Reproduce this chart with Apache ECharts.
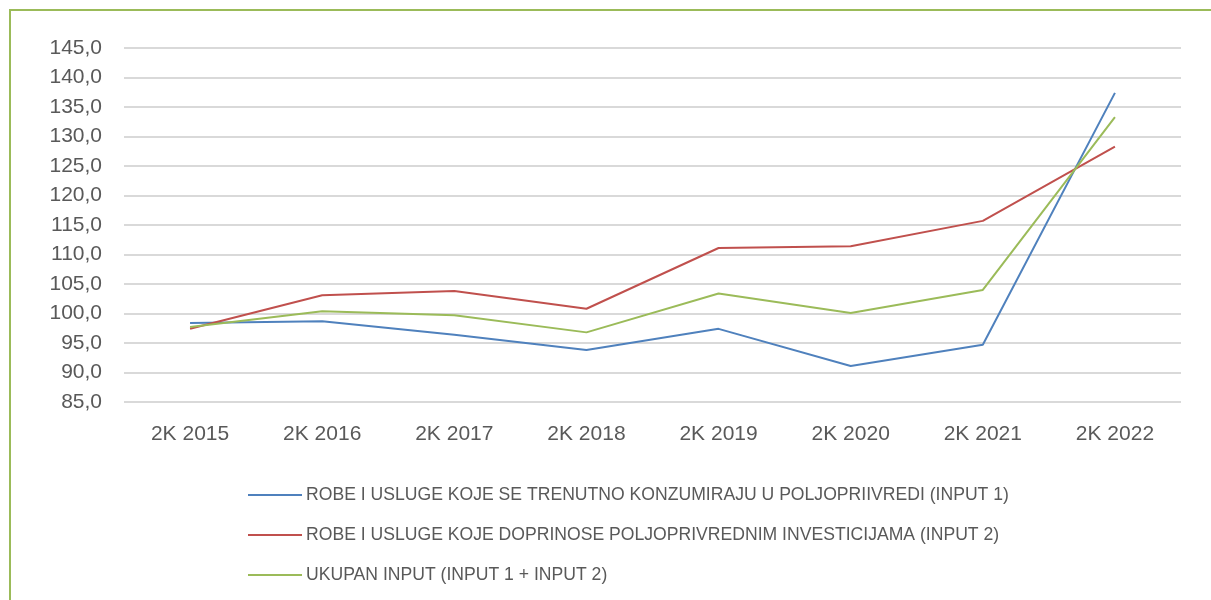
<!DOCTYPE html>
<html>
<head>
<meta charset="utf-8">
<script src="https://cdn.jsdelivr.net/npm/echarts@6/dist/echarts.min.js"></script>
<style>
html,body{margin:0;padding:0;background:#fff;}
#main{width:1211px;height:600px;}
</style>
</head>
<body>
<div id="main"></div>
<script>
const categories = ['2K 2015','2K 2016','2K 2017','2K 2018','2K 2019','2K 2020','2K 2021','2K 2022'];
const seriesNames = [
  'ROBE I USLUGE KOJE SE TRENUTNO KONZUMIRAJU U POLJOPRIIVREDI (INPUT 1)',
  'ROBE I USLUGE KOJE DOPRINOSE POLJOPRIVREDNIM INVESTICIJAMA (INPUT 2)',
  'UKUPAN INPUT (INPUT 1 + INPUT 2)'
];
const input1 = [98.4, 98.7, 96.4, 93.8, 97.4, 91.1, 94.7, 137.4];
const input2 = [97.4, 103.1, 103.8, 100.8, 111.1, 111.4, 115.7, 128.3];
const ukupno = [97.7, 100.4, 99.7, 96.8, 103.4, 100.1, 104.0, 133.3];

const colors = ['#4F81BD', '#C0504D', '#9BBB59'];
const font = "'Liberation Sans', Arial, sans-serif";

const chart = echarts.init(document.getElementById('main'), null, {renderer: 'canvas'});
const mk = (name, data, color) => ({
  name, type: 'line', data, symbol: 'none', smooth: false,
  lineStyle: {color, width: 2}, itemStyle: {color}
});
chart.setOption({
  animation: false,
  backgroundColor: '#fff',
  graphic: [{
    type: 'rect',
    shape: {x: 10, y: 10, width: 1230, height: 620},
    style: {fill: 'none', stroke: '#9BBB59', lineWidth: 2}
  }],
  grid: {left: 124, right: 30, top: 48, bottom: 198},
  xAxis: {
    type: 'category', data: categories, boundaryGap: true,
    axisLine: {show: false}, axisTick: {show: false},
    axisLabel: {color: '#595959', fontSize: 21, fontFamily: font, margin: 22}
  },
  yAxis: {
    type: 'value', min: 85, max: 145, interval: 5,
    axisLine: {show: false}, axisTick: {show: false},
    splitLine: {lineStyle: {color: '#D9D9D9', width: 2}},
    axisLabel: {
      color: '#595959', fontSize: 21, fontFamily: font, margin: 22,
      formatter: v => v.toFixed(1).replace('.', ',')
    }
  },
  legend: {
    orient: 'vertical', left: 243, top: 480,
    icon: 'rect', itemWidth: 54, itemHeight: 2, itemGap: 20, itemStyle: {},
    textStyle: {color: '#595959', fontSize: 17.6, fontFamily: font, lineHeight: 20, padding: [0,0,0,-1]},
    data: seriesNames
  },
  series: [
    mk(seriesNames[0], input1, colors[0]),
    mk(seriesNames[1], input2, colors[1]),
    mk(seriesNames[2], ukupno, colors[2])
  ]
});
</script>
</body>
</html>
